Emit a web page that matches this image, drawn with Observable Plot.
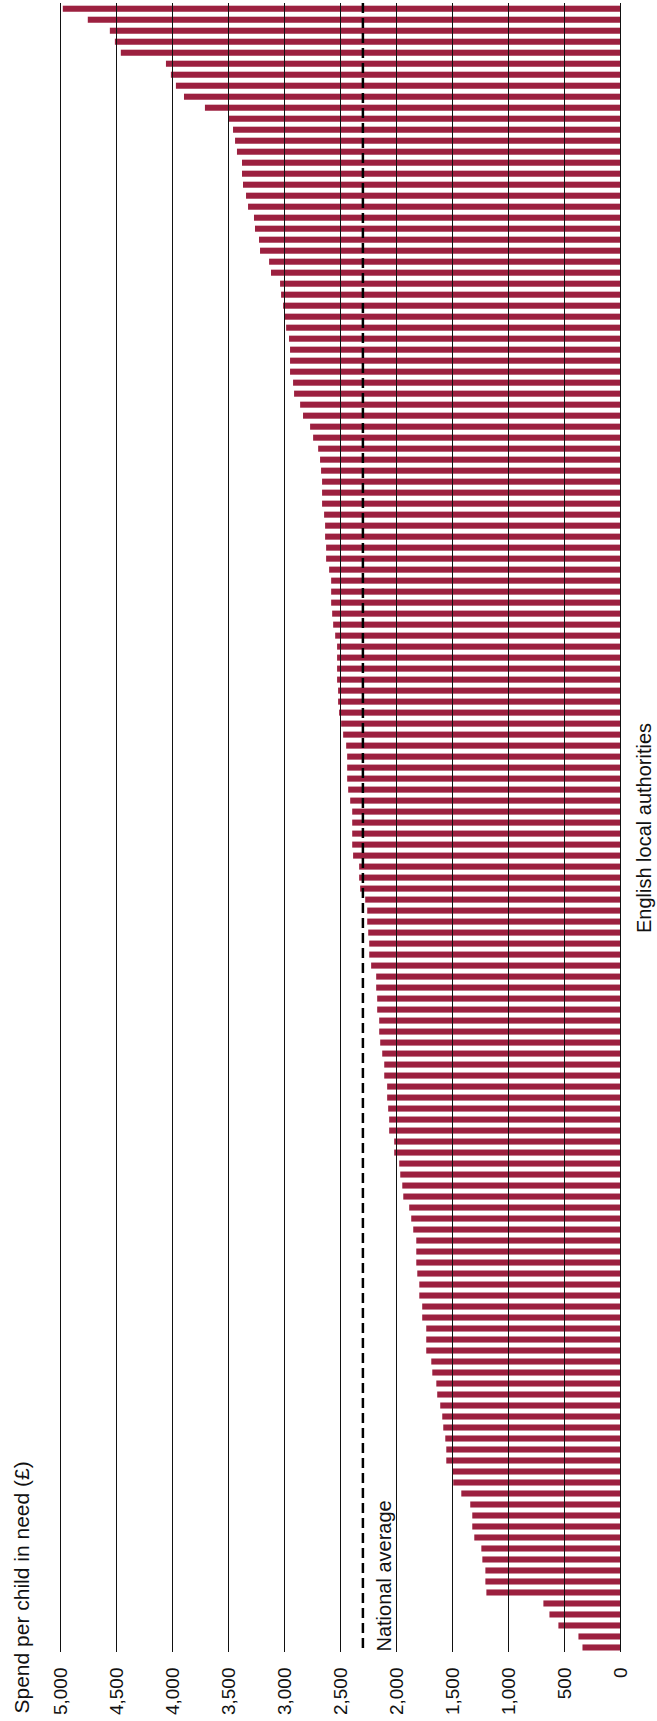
<!DOCTYPE html>
<html>
<head>
<meta charset="utf-8">
<script src="https://cdn.jsdelivr.net/npm/d3@7"></script>
<script src="https://cdn.jsdelivr.net/npm/@observablehq/plot@0.6"></script>
<style>
  html, body { margin: 0; padding: 0; background: #fff; }
  svg { display: block; }
</style>
</head>
<body>
<div id="chart"></div>
<script>
// Spend per child in need (£), English local authorities, sorted high to low
const spend = [
  4975, 4752, 4555, 4510, 4457, 4054, 4010, 3965, 3893, 3706,
  3500, 3455, 3437, 3420, 3375, 3375, 3366, 3339, 3321, 3268,
  3259, 3223, 3214, 3133, 3116, 3035, 3026, 3008, 2999, 2981,
  2955, 2946, 2946, 2946, 2919, 2910, 2856, 2830, 2767, 2740,
  2695, 2678, 2669, 2660, 2660, 2660, 2642, 2633, 2633, 2624,
  2624, 2597, 2579, 2579, 2579, 2570, 2561, 2543, 2526, 2526,
  2526, 2526, 2517, 2517, 2508, 2490, 2472, 2445, 2436, 2436,
  2436, 2427, 2409, 2391, 2391, 2391, 2391, 2383, 2329, 2329,
  2320, 2275, 2257, 2257, 2248, 2239, 2239, 2222, 2177, 2177,
  2168, 2168, 2150, 2150, 2141, 2123, 2105, 2105, 2079, 2079,
  2070, 2061, 2061, 2016, 2016, 1971, 1962, 1944, 1935, 1882,
  1864, 1846, 1819, 1819, 1819, 1810, 1792, 1792, 1766, 1766,
  1730, 1730, 1730, 1685, 1676, 1640, 1632, 1605, 1587, 1578,
  1560, 1551, 1551, 1500, 1489, 1417, 1337, 1319, 1319, 1301,
  1238, 1229, 1202, 1202, 1193, 684, 630, 550, 371, 335
];
const authorities = spend.map((d, i) => `Authority ${i + 1}`);
const nationalAverage = [2300];
const xTicks = [0, 500, 1000, 1500, 2000, 2500, 3000, 3500, 4000, 4500, 5000];
const titleText = ["Spend per child in need (£)"];
const categoryLabel = ["English local authorities"];
const averageLabel = ["National average"];

const data = authorities.map((name, i) => ({name, spend: spend[i]}));
const font = "'Liberation Sans', Arial, Helvetica, sans-serif";
const fmt = d3.format(",");

const chart = Plot.plot({
  width: 657,
  height: 1721,
  marginTop: 3,
  marginBottom: 69,
  marginLeft: 60,
  marginRight: 37,
  style: {fontFamily: font, fontSize: "19px", background: "white", color: "#111"},
  x: {
    domain: [0, 5000],
    reverse: true,
    ticks: xTicks,
    tickFormat: fmt,
    tickRotate: -90,
    tickSize: 0,
    tickPadding: 15,
    label: null
  },
  y: {
    domain: authorities,
    range: [5.7, 1650.5],
    paddingInner: 0.45,
    paddingOuter: 0,
    axis: null
  },
  marks: [
    Plot.barX(data, {x: "spend", y: "name", fill: "#9c203f"}),
    Plot.ruleX(xTicks, {stroke: "#111", strokeWidth: 1}),
    Plot.ruleX(nationalAverage, {stroke: "black", strokeWidth: 2.5, strokeDasharray: "10,5"}),
    Plot.text(nationalAverage, {
      x: d => d, text: () => averageLabel[0], frameAnchor: "bottom",
      rotate: -90, textAnchor: "start", lineAnchor: "middle",
      dx: 22, dy: -1, fontSize: 20, fill: "#111", fontFamily: font
    }),
    Plot.text(titleText, {
      text: d => d, frameAnchor: "bottom-left",
      rotate: -90, textAnchor: "start", lineAnchor: "middle",
      dx: -38, dy: 61, fontSize: 21, fill: "#111", fontFamily: font
    }),
    Plot.text(categoryLabel, {
      text: d => d, frameAnchor: "right",
      rotate: -90, textAnchor: "middle", lineAnchor: "middle",
      dx: 24, fontSize: 20, fill: "#111", fontFamily: font
    })
  ]
});
document.getElementById("chart").append(chart);
</script>
</body>
</html>
